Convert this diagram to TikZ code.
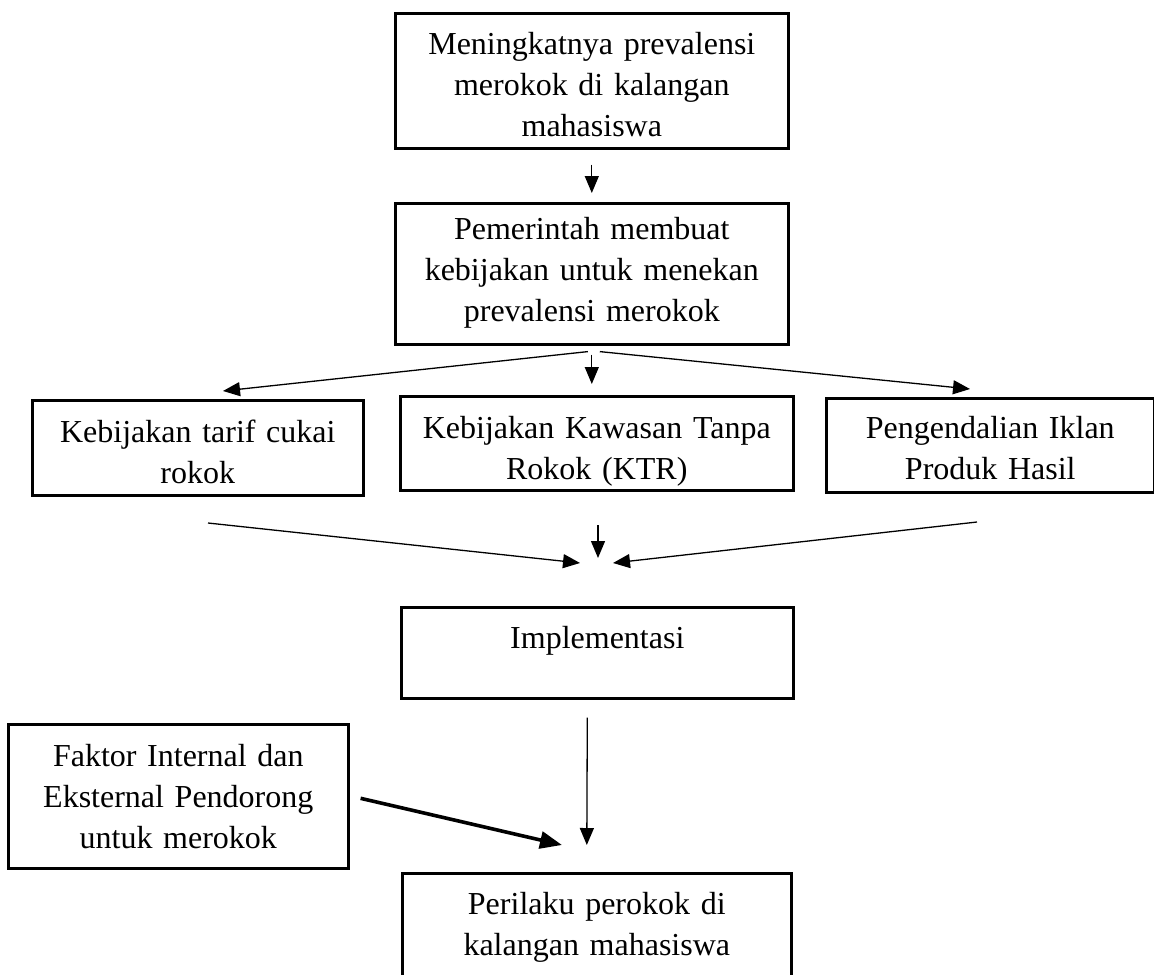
\documentclass[tikz,border=0pt]{standalone}
\usepackage{fontspec}
\setmainfont{Liberation Serif}
\usepackage{tikz}
\usetikzlibrary{arrows.meta,positioning}

\begin{document}
\begin{tikzpicture}[x=0.5pt,y=-0.5pt,
                    box/.style={draw, line width=1.3pt, inner sep=0pt, align=center, anchor=north west,
                                font=\fontsize{16pt}{20.5pt}\selectfont},
                    arr/.style={line width=0.65pt, -{Triangle[length=8.5pt,width=7pt]}},
                    thickarr/.style={line width=1.8pt, -{Triangle[length=11pt,width=8.5pt]}},
                   ]

\useasboundingbox (0,0) rectangle (1154,974);

\node[box, text width=196.5pt, text height=20.5pt, text depth=47pt] (naik) at (394,12)
  {Meningkatnya prevalensi\\merokok di kalangan\\mahasiswa};
\node[box, text width=196.5pt, text height=18pt, text depth=52.5pt] (pemerintah) at (394,202)
  {Pemerintah membuat\\kebijakan untuk menekan\\prevalensi merokok};

\node[box, text width=165.5pt, text height=21pt, text depth=26.5pt] (cukai) at (31,399)
  {Kebijakan tarif cukai\\rokok};
\node[box, text width=196.5pt, text height=21pt, text depth=26pt] (ktr) at (399,395)
  {Kebijakan Kawasan Tanpa\\Rokok (KTR)};
\node[box, text width=164pt, text height=20pt, text depth=27pt] (iklan) at (825,397)
  {Pengendalian Iklan\\Produk Hasil};

\node[box, text width=196pt, text height=20.5pt, text depth=25pt] (impl) at (400,606)
  {Implementasi};
\node[box, text width=170pt, text height=21pt, text depth=51pt] (faktor) at (7,723)
  {Faktor Internal dan\\Eksternal Pendorong\\untuk merokok};
\node[box, text width=194.5pt, text height=20.5pt, text depth=33pt] (perilaku) at (401,872)
  {Perilaku perokok di\\kalangan mahasiswa};

\coordinate (fanL) at (223,391);
\coordinate (fanR) at (970,389);
\coordinate (inL) at (208,523);
\coordinate (inM) at (598,525);
\coordinate (inR) at (977,522);
\coordinate (joinL) at (580,563);
\coordinate (joinM) at (598,558);
\coordinate (joinR) at (613,563);
\coordinate (hit) at (562,845);

\draw[arr, shorten <=7.5pt, shorten >=4.5pt] (naik) -- (pemerintah);

\draw[arr] ([xshift=-2pt,yshift=-3pt]pemerintah.south) -- (fanL);
\draw[arr] ([yshift=-4.5pt]pemerintah.south) -- ([yshift=5.5pt]pemerintah.south |- ktr.north);
\draw[arr] ([xshift=4pt,yshift=-3pt]pemerintah.south) -- (fanR);

\draw[arr] (inL) -- (joinL);
\draw[arr] (inM) -- (joinM);
\draw[arr] (inR) -- (joinR);

\draw[arr] ([xshift=-5pt,yshift=-9pt]impl.south) -- ([xshift=-5pt,yshift=13.5pt]perilaku.north);
\draw[thickarr] ([xshift=5.5pt,yshift=-1pt]faktor.east) -- (hit);

\end{tikzpicture}
\end{document}
